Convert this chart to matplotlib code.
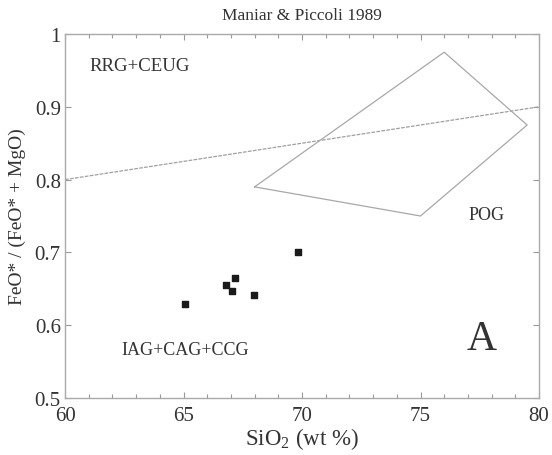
import numpy as np
import matplotlib
matplotlib.use('Agg')
import matplotlib.pyplot as plt

plt.rcParams['font.family'] = ['Liberation Serif', 'DejaVu Serif']
plt.rcParams['mathtext.fontset'] = 'custom'
plt.rcParams['mathtext.rm'] = 'Liberation Serif'

# samples
sio2 = [65.06, 66.78, 67.06, 67.16, 67.99, 69.82]
fe_ratio = [0.629, 0.655, 0.647, 0.665, 0.641, 0.701]

# POG field outline
pog_x = [68.0, 76.0, 79.5, 75.0, 68.0]
pog_y = [0.79, 0.975, 0.875, 0.75, 0.79]

# RRG+CEUG / IAG+CAG+CCG divide
div_x = [60, 80]
div_y = [0.80, 0.90]

fig = plt.figure(figsize=(5.52, 4.56), dpi=100)
ax = fig.add_axes([65/552, 1-399/456, 474/552, 364/456])

ax.plot(div_x, div_y, color='#a0a0a0', lw=0.9, ls=(0, (3, 1)))
ax.plot(pog_x, pog_y, color='#a8a8a8', lw=0.9)
ax.scatter(sio2, fe_ratio, marker='s', s=22, color='#1a1a1a', zorder=3)

ax.text(61.03, 0.957, 'RRG+CEUG', fontsize=13.5, va='center', ha='left', color='#333333')
ax.text(62.39, 0.566, 'IAG+CAG+CCG', fontsize=13, va='center', ha='left', color='#333333')
ax.text(77.79, 0.752, 'POG', fontsize=13, va='center', ha='center', color='#333333')
ax.text(77.58, 0.582, 'A', fontsize=30, va='center', ha='center', color='#333333')

ax.set_xlim(60, 80)
ax.set_ylim(0.5, 1.0)
ax.set_xticks(np.arange(60, 81, 5))
ax.set_xticks(np.arange(60, 81, 1), minor=True)
ax.set_yticks([0.5, 0.6, 0.7, 0.8, 0.9, 1.0])
ax.set_yticklabels(['0.5', '0.6', '0.7', '0.8', '0.9', '1'])
ax.tick_params(which='both', direction='in', top=True, right=True,
               color='#999999', labelsize=15, labelcolor='#333333')
ax.tick_params(which='major', length=4.5, width=0.8)
ax.tick_params(which='minor', length=3, width=0.8)
ax.tick_params(axis='y', pad=3)
ax.tick_params(axis='x', pad=6)
for s in ax.spines.values():
    s.set_color('#aaaaaa')
    s.set_linewidth(1.0)

ax.set_xlabel('SiO$_2$ (wt %)', fontsize=16.5, color='#333333', labelpad=0)
ax.set_ylabel('FeO* / (FeO* + MgO)', fontsize=14, color='#333333', labelpad=6)
ax.set_title('Maniar & Piccoli 1989', fontsize=12.5, color='#333333', pad=11)

fig.savefig('out.png', dpi=100)
